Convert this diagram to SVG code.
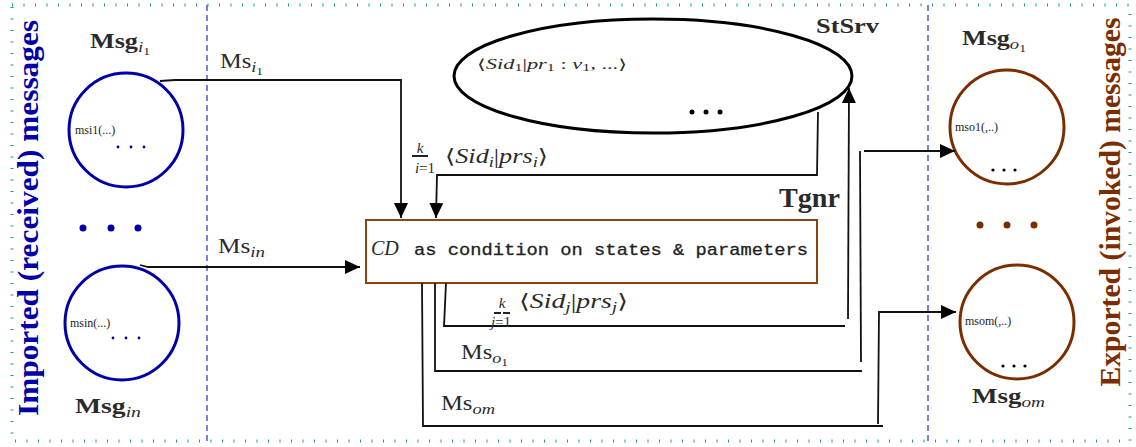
<svg xmlns="http://www.w3.org/2000/svg" width="1136" height="447" viewBox="0 0 1136 447">
<style>
.frame{fill:none;stroke:#1a9a9a;stroke-width:3;stroke-dasharray:1 10.5}
.div{fill:none;stroke:#2a2ad0;stroke-width:1.2;stroke-dasharray:6 4}
.cin{fill:#fff;stroke:#0000a8;stroke-width:3}
.cout{fill:#fff;stroke:#7a2e00;stroke-width:3}
.lbl{font-family:"Liberation Serif","DejaVu Serif",serif;fill:#2a2a2a}
.b{font-weight:bold}
.it{font-style:italic}
.small{font-family:"Liberation Serif","DejaVu Serif",serif;font-size:12px;fill:#222}
.mono{font-family:"Liberation Mono","DejaVu Sans Mono",monospace;font-size:17px;fill:#222;stroke:#222;stroke-width:0.3}
.conn{fill:none;stroke:#111;stroke-width:1.8}
</style>
<defs>
<marker id="ah" markerUnits="userSpaceOnUse" markerWidth="16" markerHeight="14" refX="15" refY="7" orient="auto">
<path d="M0,0 L15,7 L0,14 z" fill="#000"/>
</marker>
</defs>
<rect class="frame" x="12" y="5" width="1118" height="436"/>
<line class="div" x1="207" y1="5" x2="207" y2="441"/>
<line class="div" x1="928" y1="5" x2="928" y2="441"/>

<text class="lbl b" font-size="30" style="fill:#0000a8" transform="translate(38,218) rotate(-90)" text-anchor="middle" textLength="396" lengthAdjust="spacingAndGlyphs">Imported (received) messages</text>
<text class="lbl b" font-size="30" style="fill:#7a2e00" transform="translate(1120,202) rotate(-90)" text-anchor="middle" textLength="369" lengthAdjust="spacingAndGlyphs">Exported (invoked) messages</text>

<g id="msg-i1">
<circle class="cin" cx="126" cy="130" r="57"/>
<text class="lbl" font-size="21" x="90" y="48" textLength="60" lengthAdjust="spacingAndGlyphs"><tspan class="b">Msg</tspan><tspan class="it" font-size="15" dy="4">i</tspan><tspan font-size="11" dy="3">1</tspan></text>
<text class="small" x="75" y="134">msi1(...)</text>
<g fill="#0000a8"><circle cx="118" cy="147" r="1.4"/><circle cx="131" cy="147" r="1.4"/><circle cx="144" cy="147" r="1.4"/></g>
</g>
<g id="dots-in" fill="#0000a8"><circle cx="83" cy="228" r="3.5"/><circle cx="111" cy="228" r="3.5"/><circle cx="138" cy="228" r="3.5"/></g>
<g id="msg-in">
<circle class="cin" cx="122" cy="323" r="57"/>
<text class="small" x="70" y="327">msin(...)</text>
<g fill="#0000a8"><circle cx="113" cy="338" r="1.4"/><circle cx="126" cy="338" r="1.4"/><circle cx="139" cy="338" r="1.4"/></g>
<text class="lbl" font-size="21" x="75" y="413" textLength="66" lengthAdjust="spacingAndGlyphs"><tspan class="b">Msg</tspan><tspan class="it" font-size="15" dy="4">in</tspan></text>
</g>

<g id="stsrv">
<ellipse cx="653" cy="76" rx="199" ry="57" fill="#fff" stroke="#000" stroke-width="3"/>
<text class="lbl" font-size="14" x="477" y="69" textLength="150" lengthAdjust="spacingAndGlyphs"><tspan>⟨</tspan><tspan class="it">Sid</tspan><tspan font-size="10" dy="2">1</tspan><tspan dy="-2">|</tspan><tspan class="it">pr</tspan><tspan font-size="10" dy="2">1</tspan><tspan dy="-2"> : </tspan><tspan class="it">v</tspan><tspan font-size="10" dy="2">1</tspan><tspan dy="-2">, ...⟩</tspan></text>
<g fill="#000"><circle cx="692" cy="112" r="2.5"/><circle cx="706" cy="112" r="2.5"/><circle cx="720" cy="112" r="2.5"/></g>
<text class="lbl b" font-size="21" x="816" y="33" textLength="63" lengthAdjust="spacingAndGlyphs">StSrv</text>
</g>

<g id="cd">
<rect x="366" y="220" width="451" height="63" fill="#fff" stroke="#8b4513" stroke-width="2"/>
<text class="lbl it" font-size="20" x="371" y="255">CD</text>
<text class="mono" x="414" y="255" textLength="394" lengthAdjust="spacingAndGlyphs">as condition on states &amp; parameters</text>
</g>

<g id="msg-o1">
<circle class="cout" cx="1007" cy="127" r="57"/>
<text class="lbl" font-size="21" x="962" y="45" textLength="64" lengthAdjust="spacingAndGlyphs"><tspan class="b">Msg</tspan><tspan class="it" font-size="15" dy="4">o</tspan><tspan font-size="11" dy="3">1</tspan></text>
<text class="small" x="955" y="131">mso1(,..)</text>
<g fill="#000"><circle cx="993" cy="170" r="1.6"/><circle cx="1004" cy="170" r="1.6"/><circle cx="1015" cy="170" r="1.6"/></g>
</g>
<g id="dots-out" fill="#7a2e00"><circle cx="980" cy="225" r="3.5"/><circle cx="1007" cy="225" r="3.5"/><circle cx="1034" cy="225" r="3.5"/></g>
<g id="msg-om">
<circle class="cout" cx="1017" cy="322" r="57"/>
<text class="small" x="965" y="325">msom(,..)</text>
<g fill="#000"><circle cx="1003" cy="366" r="1.6"/><circle cx="1014" cy="366" r="1.6"/><circle cx="1025" cy="366" r="1.6"/></g>
<text class="lbl" font-size="21" x="972" y="403" textLength="73" lengthAdjust="spacingAndGlyphs"><tspan class="b">Msg</tspan><tspan class="it" font-size="15" dy="4">om</tspan></text>
</g>

<g id="connectors">
<path class="conn" d="M160 81 L175 80 L401 80 L401 218" marker-end="url(#ah)"/>
<path class="conn" d="M140 265 L148 267 L360 267" marker-end="url(#ah)"/>
<path class="conn" d="M818 112 L817 175 L437 175 L436 218" marker-end="url(#ah)"/>
<path class="conn" d="M446 283 L444 326 L845 326"/>
<path class="conn" d="M848 319 L849 88" marker-end="url(#ah)"/>
<path class="conn" d="M435 283 L435 371 L862 371"/>
<path class="conn" d="M861 362 L860 151"/>
<path class="conn" d="M864 151 L955 151" marker-end="url(#ah)"/>
<path class="conn" d="M422 283 L423 426 L883 426"/>
<path class="conn" d="M878 424 L879 312 L956 312" marker-end="url(#ah)"/>
</g>

<g id="connector-labels">
<text class="lbl" font-size="20" x="220" y="68" textLength="43" lengthAdjust="spacingAndGlyphs">Ms<tspan class="it" font-size="15" dy="4">i</tspan><tspan font-size="11" dy="3">1</tspan></text>
<text class="lbl" font-size="20" x="218" y="253" textLength="47" lengthAdjust="spacingAndGlyphs">Ms<tspan class="it" font-size="15" dy="4">in</tspan></text>
<text class="lbl" font-size="20" x="461" y="359" textLength="47" lengthAdjust="spacingAndGlyphs">Ms<tspan class="it" font-size="15" dy="4">o</tspan><tspan font-size="11" dy="3">1</tspan></text>
<text class="lbl" font-size="20" x="441" y="410" textLength="54" lengthAdjust="spacingAndGlyphs">Ms<tspan class="it" font-size="15" dy="4">om</tspan></text>
<text class="lbl b" font-size="27" x="779" y="207" textLength="61" lengthAdjust="spacingAndGlyphs">Tgnr</text>
<g id="lbl-i">
<text class="lbl it" font-size="15" x="420" y="153" text-anchor="middle">k</text>
<line x1="412" y1="156" x2="428" y2="156" stroke="#222" stroke-width="2"/>
<text class="lbl" font-size="15" x="425" y="173" text-anchor="middle"><tspan class="it">i</tspan>=1</text>
<text class="lbl" font-size="20" x="445" y="163" textLength="103" lengthAdjust="spacingAndGlyphs">⟨<tspan class="it">Sid</tspan><tspan class="it" font-size="14" dy="4">i</tspan><tspan dy="-4">|</tspan><tspan class="it">prs</tspan><tspan class="it" font-size="14" dy="4">i</tspan><tspan dy="-4">⟩</tspan></text>
</g>
<g id="lbl-j">
<text class="lbl it" font-size="15" x="502" y="308" text-anchor="middle">k</text>
<line x1="494" y1="313" x2="510" y2="313" stroke="#222" stroke-width="2" stroke-dasharray="7 2"/>
<text class="lbl" font-size="15" x="501" y="327" text-anchor="middle"><tspan class="it">j</tspan>=1</text>
<text class="lbl" font-size="20" x="519" y="308" textLength="109" lengthAdjust="spacingAndGlyphs">⟨<tspan class="it">Sid</tspan><tspan class="it" font-size="14" dy="4">j</tspan><tspan dy="-4">|</tspan><tspan class="it">prs</tspan><tspan class="it" font-size="14" dy="4">j</tspan><tspan dy="-4">⟩</tspan></text>
</g>
</g>
</svg>
